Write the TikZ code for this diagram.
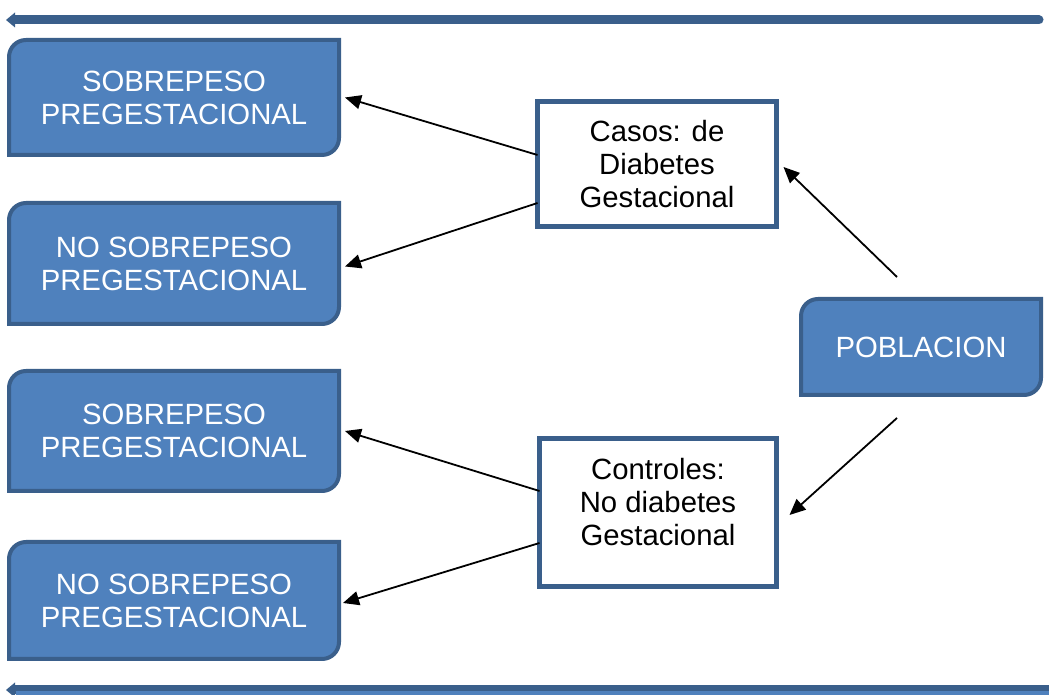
\documentclass[tikz,border=0pt]{standalone}
\usepackage{fontspec}
\setmainfont{Liberation Sans}
\usetikzlibrary{arrows.meta,backgrounds}
\definecolor{bfill}{HTML}{4F81BD}
\definecolor{bline}{HTML}{3A5F8B}
\definecolor{blight}{HTML}{4F81BD}
\begin{document}
\begin{tikzpicture}[x=1pt,y=1pt,
  txt/.style={font=\fontsize{29.3}{33}\selectfont,align=center},
  bluebox/.style={txt,text=white,inner sep=0pt,outer sep=0pt},
  whitebox/.style={txt,draw=bline,line width=5pt,fill=white,inner sep=0pt,outer sep=0pt},
  shapeline/.style={draw=bline,fill=bfill,line width=4pt},
  conn/.style={line width=1.8pt,-{Triangle[length=16pt,width=14pt]}},
  band/.style={draw=bline,line width=9pt,line cap=round}
]
\useasboundingbox (0,0) rectangle (1049,695);
% blue boxes
\node[bluebox,minimum width=330pt,minimum height=115pt] (b1) at (174,597.5) {SOBREPESO\\PREGESTACIONAL};
\node[bluebox,minimum width=330pt,minimum height=121pt] (b2) at (174,431.5) {NO SOBREPESO\\PREGESTACIONAL};
\node[bluebox,minimum width=330pt,minimum height=120pt] (b3) at (174,264) {SOBREPESO\\PREGESTACIONAL};
\node[bluebox,minimum width=330pt,minimum height=117pt] (b4) at (174,94.5) {NO SOBREPESO\\PREGESTACIONAL};
\node[bluebox,minimum width=240pt,minimum height=96pt] (p) at (921,348) {POBLACION};
\begin{pgfonlayer}{background}
\foreach \n in {b1,b2,b3,b4,p}{
  \path[shapeline] (\n.north east) -- ([yshift=17pt]\n.south east)
    arc[start angle=0,end angle=-90,radius=17pt] -- (\n.south west)
    -- ([yshift=-17pt]\n.north west)
    arc[start angle=180,end angle=90,radius=17pt] -- cycle;
}
\end{pgfonlayer}
% white boxes
\node[whitebox,minimum width=239pt,minimum height=125pt] (w1) at (657,531) {Casos: de\\Diabetes\\Gestacional};
\node[whitebox,minimum width=237pt,minimum height=148pt] (w2) at (658,182.5) {};
\node[txt] (w2t) at (658,192.5) {Controles:\\No diabetes\\Gestacional};
% connectors
\draw[conn] ([yshift=9pt]w1.west) -- ([xshift=6pt]b1.east);
\draw[conn] ([yshift=-39pt]w1.west) -- ([xshift=6pt,yshift=-3pt]b2.east);
\draw[conn] ([yshift=21.5pt]w2.west) -- ([xshift=6pt]b3.east);
\draw[conn] ([yshift=-30.5pt]w2.west) -- ([xshift=4pt,yshift=-2.5pt]b4.east);
\draw[conn] ([shift={(-24pt,22pt)}]p.north) -- ([xshift=7pt,yshift=-3pt]w1.east);
\draw[conn] ([shift={(-24pt,-23pt)}]p.south) -- ([xshift=13pt,yshift=-2.5pt]w2.east);
% decorative bands
\coordinate (tl) at (14,675);
\coordinate (tr) at (1039,675);
\draw[band] (tr) -- (tl);
\fill[bline] (6,675) -- (15,682.5) -- (15,667.5) -- cycle;
\coordinate (bl) at (14,5);
\coordinate (br) at (1060,5);
\draw[band] (br) -- (bl);
\draw[blight,line width=4pt] (1060,1.5) -- (16,1.5);
\fill[bline] (6,5) -- (15,12.5) -- (15,-2.5) -- cycle;
\end{tikzpicture}
\end{document}
